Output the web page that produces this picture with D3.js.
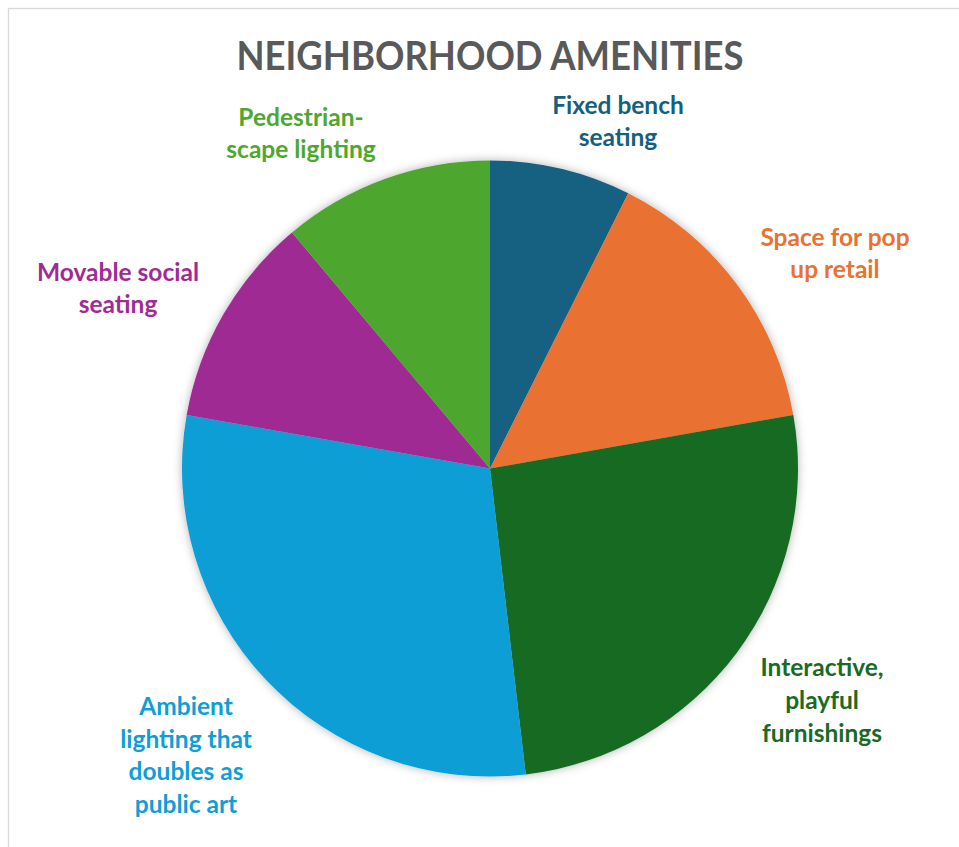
<!DOCTYPE html>
<html>
<head>
<meta charset="utf-8">
<script src="https://cdn.jsdelivr.net/npm/d3@7"></script>
<style>
  html, body { margin: 0; padding: 0; background: #fff; }
  svg { display: block; }
</style>
</head>
<body>
<svg id="chart" width="959" height="847"></svg>
<script>
// ---- data ----
const categories = [
  "Fixed bench seating",
  "Space for pop up retail",
  "Interactive, playful furnishings",
  "Ambient lighting that doubles as public art",
  "Movable social seating",
  "Pedestrian-scape lighting"
];
const values = [2, 4, 7, 8, 3, 3];
const labelLines = [
  ["Fixed bench", "seating"],
  ["Space for pop", "up retail"],
  ["Interactive,", "playful", "furnishings"],
  ["Ambient", "lighting that", "doubles as", "public art"],
  ["Movable social", "seating"],
  ["Pedestrian-", "scape lighting"]
];
const colors = ["#156082", "#E97132", "#196B24", "#0F9ED5", "#A02B93", "#4EA72E"];
const title = "NEIGHBORHOOD AMENITIES";

// ---- layout ----
const W = 959, H = 847;
const cx = 490, cy = 468.5, R = 308;
// label block centre offsets from pie centre (dx, dy)
const labelOffsets = [
  [128, -347], [345, -215], [332, 232], [-304, 287], [-372, -180], [-189, -335]
];
const lineH = 32.8;
const font = "Lato, 'Open Sans', sans-serif";

const svg = d3.select("#chart");

const defs = svg.append("defs");
const f = defs.append("filter").attr("id", "shadow")
  .attr("x", "-20%").attr("y", "-20%").attr("width", "140%").attr("height", "140%");
f.append("feDropShadow").attr("dx", 0).attr("dy", 0).attr("stdDeviation", 5)
  .attr("flood-color", "#000").attr("flood-opacity", 0.3);

svg.append("rect").attr("x", 0).attr("y", 0).attr("width", W).attr("height", H).attr("fill", "#fff");
svg.append("rect").attr("x", 8.5).attr("y", 8.5).attr("width", 1200).attr("height", 1200)
  .attr("fill", "none").attr("stroke", "#D9D9D9").attr("stroke-width", 1.3);

svg.append("text")
  .attr("x", cx).attr("y", 70)
  .attr("text-anchor", "middle")
  .attr("font-family", font)
  .attr("font-weight", 700)
  .attr("font-size", 41)
  .attr("fill", "#595959")
  .attr("textLength", 507)
  .attr("lengthAdjust", "spacingAndGlyphs")
  .text(title);

const pie = d3.pie().sort(null).value(d => d)(values);
const arc = d3.arc().innerRadius(0).outerRadius(R);

const g = svg.append("g").attr("transform", `translate(${cx},${cy})`);
g.append("g").attr("filter", "url(#shadow)")
  .selectAll("path").data(pie).join("path")
  .attr("d", arc)
  .attr("fill", (d, i) => colors[i]);

const lg = g.append("g");
pie.forEach((d, i) => {
  const lines = labelLines[i];
  const [dx, dy] = labelOffsets[i];
  const t = lg.append("text")
    .attr("text-anchor", "middle")
    .attr("font-family", font)
    .attr("font-weight", 700)
    .attr("font-size", 24.5)
    .attr("fill", colors[i]);
  lines.forEach((ln, k) => {
    t.append("tspan")
      .attr("x", dx)
      .attr("y", dy + (k - (lines.length - 1) / 2) * lineH)
      .attr("dy", "0.35em")
      .text(ln);
  });
});
</script>
</body>
</html>
